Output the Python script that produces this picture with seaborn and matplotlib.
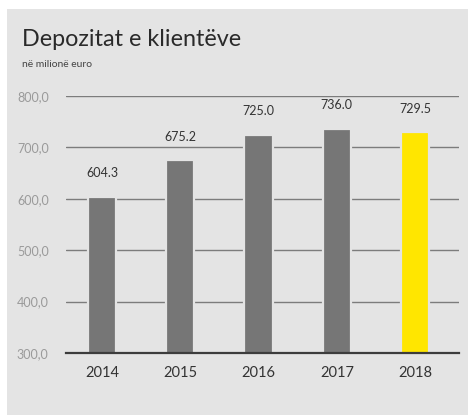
import matplotlib
matplotlib.use("Agg")
import matplotlib.pyplot as plt
import matplotlib.patches as mpatches
from matplotlib.ticker import FuncFormatter, FixedLocator
import seaborn as sns
import pandas as pd

# Customer deposits, in million euro
years = ["2014", "2015", "2016", "2017", "2018"]
deposits = [604.3, 675.2, 725.0, 736.0, 729.5]
bar_colors = ["#767676", "#767676", "#767676", "#767676", "#ffe600"]
y_ticks = [300, 400, 500, 600, 700, 800]

title = "Depozitat e klientëve"
subtitle = "në milionë euro"

df = pd.DataFrame({"year": years, "deposits": deposits})

sns.set_theme(style="white")
plt.rcParams["font.family"] = ["Lato", "DejaVu Sans"]

panel_bg = "#e4e4e4"
fig = plt.figure(figsize=(4.68, 4.15), dpi=100, facecolor="white")
fig.patches.append(
    mpatches.Rectangle((7 / 468, 0), 1, 1 - 9 / 415, transform=fig.transFigure,
                       facecolor=panel_bg, edgecolor="none", zorder=-10)
)

ax = fig.add_axes([66 / 468, 62 / 415, 393 / 468, 257 / 415])
ax.set_facecolor("none")

sns.barplot(data=df, x="year", y="deposits", hue="year", palette=bar_colors,
            legend=False, width=0.36, saturation=1, ax=ax,
            edgecolor=panel_bg, linewidth=1.6, zorder=3)

ax.set_ylim(300, 800)
ax.set_xlim(-0.46, 4.56)
ax.yaxis.set_major_locator(FixedLocator(y_ticks))
ax.yaxis.set_major_formatter(FuncFormatter(lambda v, p: f"{v:.1f}".replace(".", ",")))

ax.set_axisbelow(True)
ax.yaxis.grid(True, color="#7c7c7c", linewidth=1.0)
ax.xaxis.grid(False)

for side in ["top", "right", "left"]:
    ax.spines[side].set_visible(False)
ax.spines["bottom"].set_color("#3c3c3c")
ax.spines["bottom"].set_linewidth(1.6)
ax.spines["bottom"].set_zorder(5)

ax.tick_params(axis="y", length=0, pad=12.5, labelsize=9, labelcolor="#9a9a9a")
ax.tick_params(axis="x", length=0, pad=9, labelsize=10.5, labelcolor="#333333")
ax.set_xlabel("")
ax.set_ylabel("")

for i, v in enumerate(deposits):
    ax.annotate(f"{v:.1f}", (i, v), xytext=(0, 17), textcoords="offset points",
                ha="center", va="center", fontsize=9, color="#333333",
                annotation_clip=False)

fig.text(22 / 468, 1 - 46 / 415, title, fontsize=16.8, color="#2a2a2a",
         ha="left", va="baseline")
fig.text(22 / 468, 1 - 67 / 415, subtitle, fontsize=7.5, color="#444444",
         ha="left", va="baseline")

fig.savefig("out.png", dpi=100, facecolor="white")
